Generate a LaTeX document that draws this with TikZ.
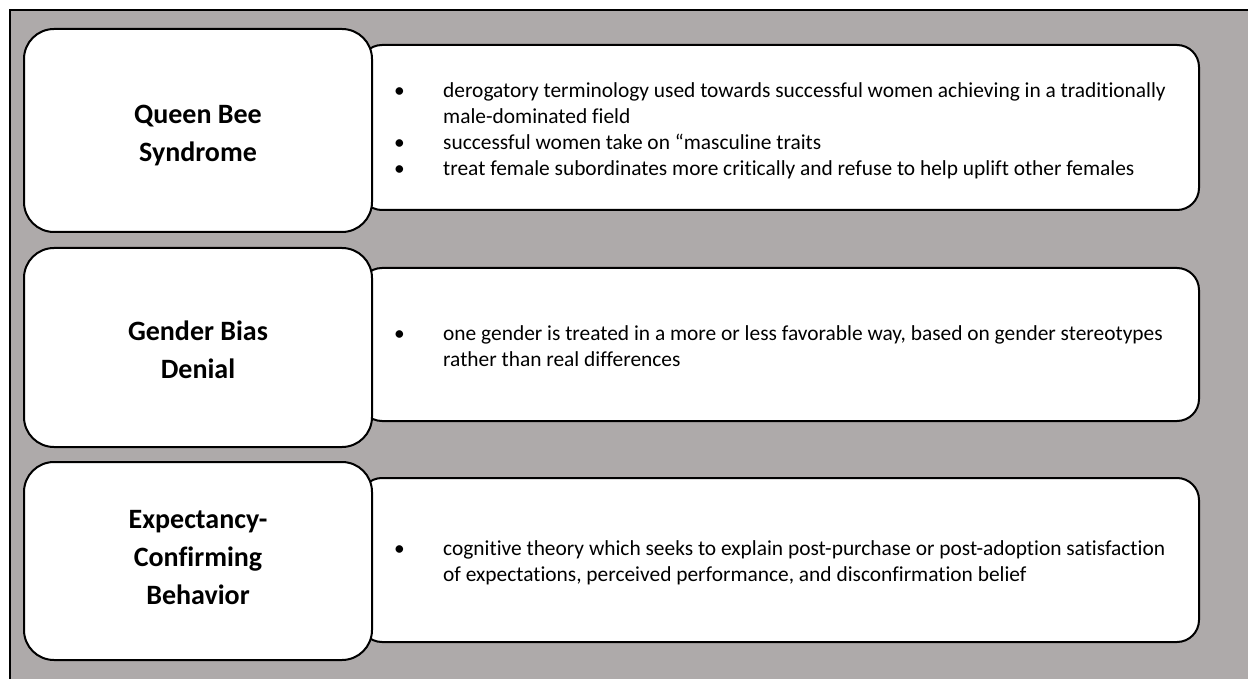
\documentclass[tikz,border=0pt]{standalone}
\usepackage{fontspec}
\setmainfont{Carlito}[Ligatures=NoCommon]
\definecolor{framegray}{RGB}{174,170,170}
\begin{document}
\begin{tikzpicture}[x=1pt,y=-1pt,
  leftbox/.style={draw=black, line width=2pt, fill=white, rounded corners=30pt,
    inner sep=0pt, minimum width=348pt},
  titletext/.style={align=center, font=\fontsize{28}{38}\selectfont\bfseries, inner sep=0pt},
  rightbox/.style={draw=black, line width=2pt, fill=white, rounded corners=22pt,
    inner sep=0pt, minimum width=839pt},
  bodytext/.style={anchor=west, inner sep=0pt, align=left,
    font=\fontsize{21.4}{26}\selectfont}]
\useasboundingbox (0,0) rectangle (1248,679);
\fill[white] (0,0) rectangle (1248,679);
\clip (0,0) rectangle (1248,679);
\draw[fill=framegray, line width=1.5pt] (10,10) rectangle (1270,700);

% right description boxes
\node[rightbox, minimum height=165pt] (d1) at (779.5,127.5) {};
\node[rightbox, minimum height=153pt] (d2) at (779.5,344.5) {};
\node[rightbox, minimum height=164pt] (d3) at (779.5,560) {};

% left title boxes
\node[leftbox, minimum height=203pt] (t1) at (198,130.5) {};
\node[leftbox, minimum height=199pt] (t2) at (198,347.5) {};
\node[leftbox, minimum height=198pt] (t3) at (198,561) {};
\node[titletext] (l1) at ([yshift=-5pt]t1.center) {Queen Bee\\Syndrome};
\node[titletext] (l2) at ([yshift=-2pt]t2.center) {Gender Bias\\Denial};
\node[titletext] (l3) at ([yshift=3pt]t3.center) {Expectancy-\\Confirming\\Behavior};

% texts
\node[bodytext] (x1) at ([xshift=35pt,yshift=-4pt]d1.west) {%
\begin{tabular}{@{}p{49pt}@{}l@{}}
\textbullet & derogatory terminology used towards successful women achieving in a traditionally\\
 & male-dominated field\\
\textbullet & successful women take on “masculine traits\\
\textbullet & treat female subordinates more critically and refuse to help uplift other females
\end{tabular}};
\node[bodytext] (x2) at ([xshift=35pt,yshift=-4pt]d2.west) {%
\begin{tabular}{@{}p{49pt}@{}l@{}}
\textbullet & one gender is treated in a more or less favorable way, based on gender stereotypes\\
 & rather than real differences
\end{tabular}};
\node[bodytext] (x3) at ([xshift=35pt,yshift=-3pt]d3.west) {%
\begin{tabular}{@{}p{49pt}@{}l@{}}
\textbullet & cognitive theory which seeks to explain post-purchase or post-adoption satisfaction\\
 & of expectations, perceived performance, and disconfirmation belief
\end{tabular}};
\end{tikzpicture}
\end{document}
